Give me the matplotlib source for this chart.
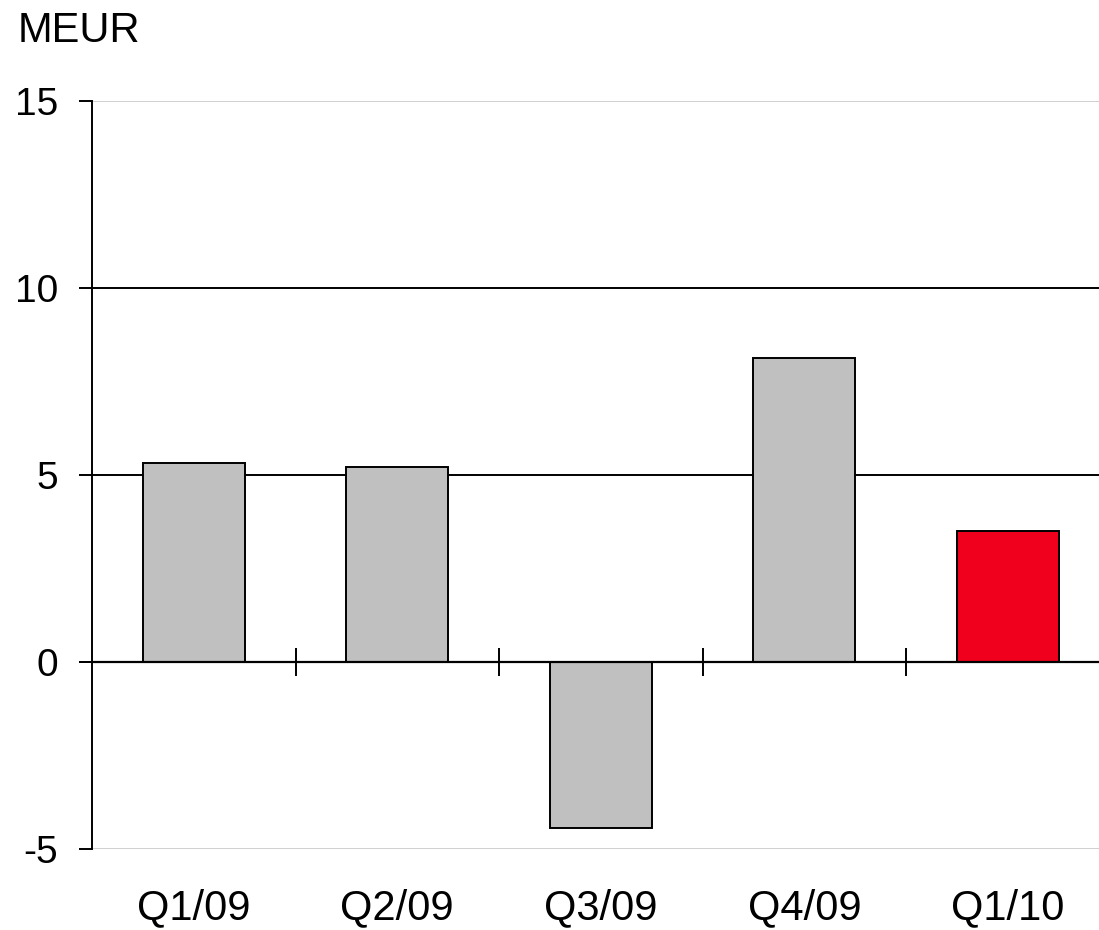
import matplotlib.pyplot as plt
import numpy as np

plt.rcParams['font.family'] = ['Liberation Sans', 'DejaVu Sans']

quarters = ["Q1/09", "Q2/09", "Q3/09", "Q4/09", "Q1/10"]
values = [5.32, 5.21, -4.44, 8.13, 3.50]
bar_colors = ["#c0c0c0", "#c0c0c0", "#c0c0c0", "#c0c0c0", "#f0001c"]

fig = plt.figure(figsize=(10.99, 9.30), dpi=100)
ax = fig.add_axes([0.0837, 0.0871, 0.926, 0.8043])

x = np.arange(len(quarters))

# grid lines: outer ones light gray, inner ones black
for yv, c in [(15, "#d0d0d0"), (10, "black"), (5, "black"), (-5, "#d0d0d0")]:
    ax.axhline(yv, color=c, lw=1.4, zorder=0)

ax.bar(x, values, width=0.5, color=bar_colors, edgecolor="black", linewidth=1.4, zorder=2)

# zero line with category boundary ticks
ax.axhline(0, color="black", lw=1.6, zorder=3)
ax.plot(x[:-1] + 0.5, np.zeros(len(x) - 1), ls="none", marker="|", ms=20, mew=1.4,
        color="black", zorder=3, clip_on=False)

ax.set_xlim(-0.5, len(quarters) - 0.5)
ax.set_ylim(-5, 15)
ax.set_yticks([-5, 0, 5, 10, 15])
ax.set_yticklabels(["-5", "0", "5", "10", "15"])
ax.set_xticks(x)
ax.set_xticklabels(quarters)

for s in ["top", "right", "bottom"]:
    ax.spines[s].set_visible(False)
ax.spines["left"].set_linewidth(1.4)

ax.tick_params(axis="y", direction="out", length=9.5, width=1.4, labelsize=28, pad=15)
ax.tick_params(axis="x", length=0, labelsize=30, pad=28)

# x tick crossing the zero line on the left spine
ax.plot([0], [0], transform=ax.get_yaxis_transform(), marker="_", ms=19, mew=1.4,
        color="black", clip_on=False, zorder=4)

fig.text(0.016, 0.955, "MEUR", fontsize=30, ha="left", va="baseline")

fig.savefig("out.png", dpi=100)
